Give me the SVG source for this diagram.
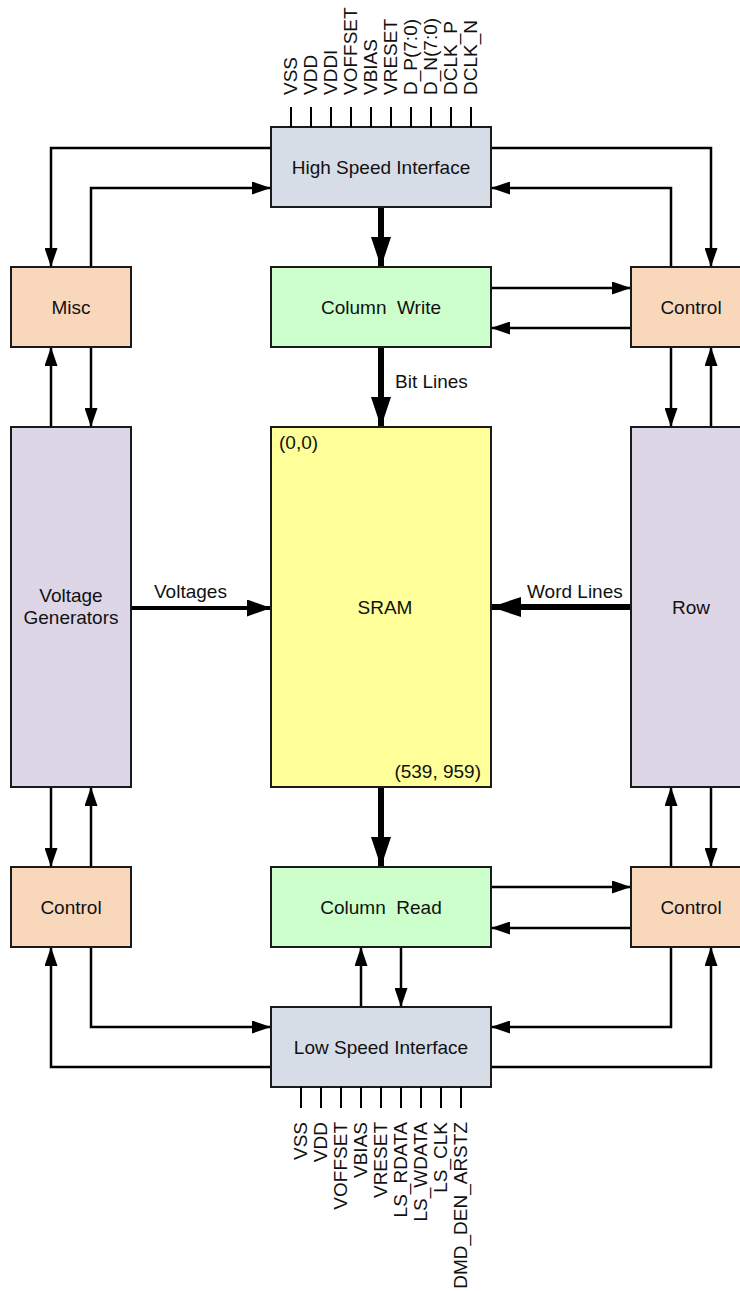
<svg xmlns="http://www.w3.org/2000/svg" width="740" height="1291" viewBox="0 0 740 1291">
<style>
text{font-family:"Liberation Sans",Arial,sans-serif;font-size:19px;fill:#111}
.box{stroke:#1a1a1a;stroke-width:2}
.iface{fill:#D7DDE7}
.ctl{fill:#F9D7BB}
.col{fill:#CCFFCC}
.sram{fill:#FFFF99}
.big{fill:#DDD6E6}
.c{text-anchor:middle}
.thin{fill:none;stroke:#000;stroke-width:2.5;marker-end:url(#a)}
.pin{stroke:#000;stroke-width:2}
.pt{font-size:19px}
</style>
<defs>
<marker id="a" markerUnits="userSpaceOnUse" markerWidth="19" markerHeight="13" refX="19" refY="6.5" orient="auto"><path d="M0,0 L19,6.5 L0,13 z" fill="#000"/></marker>
<marker id="b" markerUnits="userSpaceOnUse" markerWidth="30" markerHeight="20" refX="30" refY="10" orient="auto"><path d="M0,0 L30,10 L0,20 z" fill="#000"/></marker>
<marker id="v" markerUnits="userSpaceOnUse" markerWidth="24" markerHeight="17" refX="24" refY="8.5" orient="auto"><path d="M0,0 L24,8.5 L0,17 z" fill="#000"/></marker>
</defs>

<g id="connectors">
<path class="thin" d="M271,148 H51 V267"/>
<path class="thin" d="M91,267 V188 H271"/>
<path class="thin" d="M491,148 H711 V267"/>
<path class="thin" d="M671,267 V188 H491"/>
<path class="thin" d="M491,288 H631"/>
<path class="thin" d="M631,328 H491"/>
<path class="thin" d="M671,347 V427"/>
<path class="thin" d="M711,427 V347"/>
<path class="thin" d="M51,427 V347"/>
<path class="thin" d="M91,347 V427"/>
<path class="thin" d="M51,787 V867"/>
<path class="thin" d="M91,867 V787"/>
<path class="thin" d="M671,867 V787"/>
<path class="thin" d="M711,787 V867"/>
<path class="thin" d="M491,887 H631"/>
<path class="thin" d="M631,928 H491"/>
<path class="thin" d="M361,1007 V947"/>
<path class="thin" d="M401,947 V1007"/>
<path class="thin" d="M91,947 V1027 H271"/>
<path class="thin" d="M271,1067 H51 V947"/>
<path class="thin" d="M671,947 V1027 H491"/>
<path class="thin" d="M491,1067 H711 V947"/>
<path d="M381,207 V267" stroke="#000" stroke-width="6" fill="none" marker-end="url(#b)"/>
<path d="M381,347 V427" stroke="#000" stroke-width="6" fill="none" marker-end="url(#b)"/>
<path d="M381,787 V867" stroke="#000" stroke-width="6" fill="none" marker-end="url(#b)"/>
<path d="M131,608 H271" stroke="#000" stroke-width="4" fill="none" marker-end="url(#v)"/>
<path d="M631,607 H491" stroke="#000" stroke-width="6" fill="none" marker-end="url(#b)"/>
<text x="395" y="388">Bit Lines</text>
<text x="154" y="598">Voltages</text>
<text x="527" y="598">Word Lines</text>
</g>

<g id="hsi">
<rect class="box iface" x="271" y="127" width="220" height="80"/>
<text class="c" x="381" y="174">High Speed Interface</text>
<g class="pin">
<line x1="291" y1="107" x2="291" y2="127"/><line x1="311" y1="107" x2="311" y2="127"/>
<line x1="331" y1="107" x2="331" y2="127"/><line x1="351" y1="107" x2="351" y2="127"/>
<line x1="371" y1="107" x2="371" y2="127"/><line x1="391" y1="107" x2="391" y2="127"/>
<line x1="411" y1="107" x2="411" y2="127"/><line x1="431" y1="107" x2="431" y2="127"/>
<line x1="451" y1="107" x2="451" y2="127"/><line x1="471" y1="107" x2="471" y2="127"/>
</g>
<text class="pt" transform="translate(297,95) rotate(-90)">VSS</text>
<text class="pt" transform="translate(317,95) rotate(-90)">VDD</text>
<text class="pt" transform="translate(337,95) rotate(-90)">VDDI</text>
<text class="pt" transform="translate(357,95) rotate(-90)">VOFFSET</text>
<text class="pt" transform="translate(377,95) rotate(-90)">VBIAS</text>
<text class="pt" transform="translate(397,95) rotate(-90)">VRESET</text>
<text class="pt" transform="translate(417,95) rotate(-90)">D_P(7:0)</text>
<text class="pt" transform="translate(437,95) rotate(-90)">D_N(7:0)</text>
<text class="pt" transform="translate(457,95) rotate(-90)">DCLK_P</text>
<text class="pt" transform="translate(477,95) rotate(-90)">DCLK_N</text>
</g>

<g id="misc">
<rect class="box ctl" x="11" y="267" width="120" height="80"/>
<text class="c" x="71" y="314">Misc</text>
</g>

<g id="colwrite">
<rect class="box col" x="271" y="267" width="220" height="80"/>
<text class="c" x="381" y="314" xml:space="preserve">Column  Write</text>
</g>

<g id="control-top">
<rect class="box ctl" x="631" y="267" width="120" height="80"/>
<text class="c" x="691" y="314">Control</text>
</g>

<g id="vgen">
<rect class="box big" x="11" y="427" width="120" height="360"/>
<text class="c" x="71" y="602">Voltage</text>
<text class="c" x="71" y="624">Generators</text>
</g>

<g id="sram">
<rect class="box sram" x="271" y="427" width="220" height="360"/>
<text x="279" y="449">(0,0)</text>
<text class="c" x="385" y="614">SRAM</text>
<text x="481" y="778" text-anchor="end">(539, 959)</text>
</g>

<g id="row">
<rect class="box big" x="631" y="427" width="120" height="360"/>
<text class="c" x="691" y="614">Row</text>
</g>

<g id="control-left">
<rect class="box ctl" x="11" y="867" width="120" height="80"/>
<text class="c" x="71" y="914">Control</text>
</g>

<g id="colread">
<rect class="box col" x="271" y="867" width="220" height="80"/>
<text class="c" x="381" y="914" xml:space="preserve">Column  Read</text>
</g>

<g id="control-right">
<rect class="box ctl" x="631" y="867" width="120" height="80"/>
<text class="c" x="691" y="914">Control</text>
</g>

<g id="lsi">
<rect class="box iface" x="271" y="1007" width="220" height="80"/>
<text class="c" x="381" y="1054">Low Speed Interface</text>
<g class="pin">
<line x1="301" y1="1087" x2="301" y2="1108"/><line x1="321" y1="1087" x2="321" y2="1108"/>
<line x1="341" y1="1087" x2="341" y2="1108"/><line x1="361" y1="1087" x2="361" y2="1108"/>
<line x1="381" y1="1087" x2="381" y2="1108"/><line x1="401" y1="1087" x2="401" y2="1108"/>
<line x1="421" y1="1087" x2="421" y2="1108"/><line x1="441" y1="1087" x2="441" y2="1108"/>
<line x1="461" y1="1087" x2="461" y2="1108"/>
</g>
<g text-anchor="end">
<text class="pt" transform="translate(307,1122) rotate(-90)">VSS</text>
<text class="pt" transform="translate(327,1122) rotate(-90)">VDD</text>
<text class="pt" transform="translate(347,1122) rotate(-90)">VOFFSET</text>
<text class="pt" transform="translate(367,1122) rotate(-90)">VBIAS</text>
<text class="pt" transform="translate(387,1122) rotate(-90)">VRESET</text>
<text class="pt" transform="translate(407,1122) rotate(-90)">LS_RDATA</text>
<text class="pt" transform="translate(427,1122) rotate(-90)">LS_WDATA</text>
<text class="pt" transform="translate(447,1122) rotate(-90)">LS_CLK</text>
<text class="pt" transform="translate(467,1122) rotate(-90)">DMD_DEN_ARSTZ</text>
</g>
</g>
</svg>
